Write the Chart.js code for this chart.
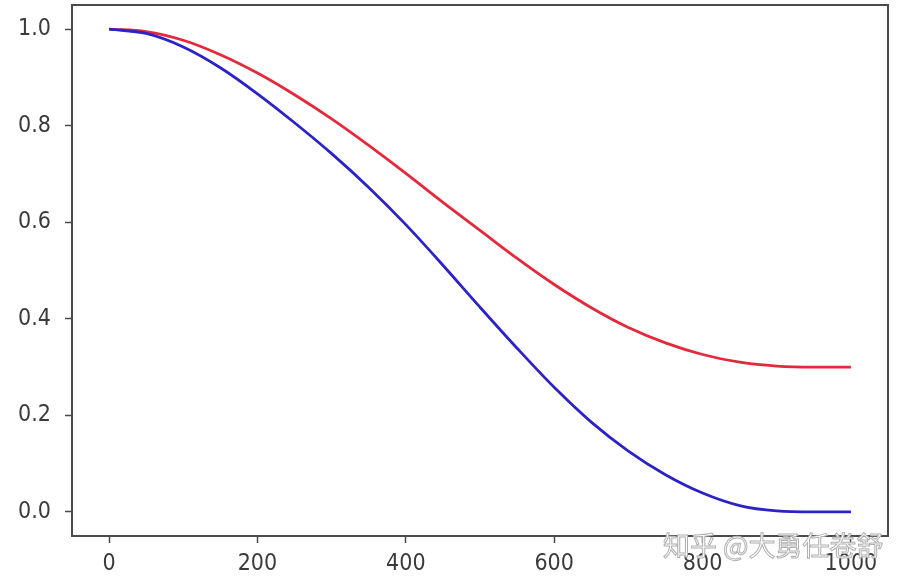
<!DOCTYPE html>
<html>
<head>
<meta charset="utf-8">
<script src="https://cdn.jsdelivr.net/npm/chart.js@4/dist/chart.umd.min.js"></script>
<style>
  html, body { margin: 0; padding: 0; background: #ffffff; }
  #wrap { position: relative; width: 907px; height: 582px; }
  #c { display: block; }
  #wm {
    position: absolute; left: 663px; top: 525px;
    font-family: "Noto Sans CJK SC", sans-serif; font-size: 27px;
    color: #ffffff; white-space: nowrap;
    -webkit-text-stroke: 1px #b0b0b0;
  }
</style>
</head>
<body>
<div id="wrap">
  <canvas id="c" width="907" height="582"></canvas>
  <div id="wm">知乎 @大勇任卷舒</div>
</div>
<script>
// ---- data ----
const steps = [0, 50, 100, 150, 200, 250, 300, 350, 400, 450, 500,
               550, 600, 650, 700, 750, 800, 850, 900, 950, 1000];
const blueSeries = [1.000, 0.991, 0.963, 0.920, 0.866, 0.806, 0.742, 0.672, 0.595, 0.511, 0.424,
                    0.339, 0.258, 0.186, 0.126, 0.077, 0.039, 0.013, 0.002, 0.000, 0.000];
const redSeries  = [1.000, 0.995, 0.977, 0.947, 0.909, 0.864, 0.814, 0.759, 0.701, 0.641, 0.583,
                    0.525, 0.471, 0.423, 0.382, 0.350, 0.326, 0.310, 0.302, 0.300, 0.300];
const xTickValues = [0, 200, 400, 600, 800, 1000];
const yTickValues = [0.0, 0.2, 0.4, 0.6, 0.8, 1.0];

const toPoints = (ys) => steps.map((x, i) => ({ x: x, y: ys[i] }));

const frame = {
  id: 'frame',
  afterDatasetsDraw(chart) {
    const a = chart.chartArea, ctx = chart.ctx;
    ctx.save();
    ctx.strokeStyle = '#4a4a4a';
    ctx.lineWidth = 2;
    ctx.strokeRect(a.left, a.top, a.right - a.left, a.bottom - a.top);
    ctx.restore();
  }
};

const tickFont = { family: '"DejaVu Sans Condensed", "DejaVu Sans", sans-serif', size: 23 };

new Chart(document.getElementById('c'), {
  type: 'line',
  data: {
    datasets: [
      { data: toPoints(blueSeries), borderColor: '#2c22c6', borderWidth: 2.8,
        pointRadius: 0, fill: false, cubicInterpolationMode: 'monotone' },
      { data: toPoints(redSeries), borderColor: '#e22a3c', borderWidth: 2.8,
        pointRadius: 0, fill: false, cubicInterpolationMode: 'monotone' }
    ]
  },
  options: {
    responsive: false,
    animation: false,
    layout: { padding: { left: 0, top: 5, right: 19, bottom: 0 } },
    plugins: { legend: { display: false }, tooltip: { enabled: false } },
    scales: {
      x: {
        type: 'linear', min: -50, max: 1050,
        afterBuildTicks: (s) => { s.ticks = xTickValues.map(v => ({ value: v })); },
        afterFit: (s) => { s.height = 46; s.paddingLeft = 0; s.paddingRight = 0; },
        grid: { drawOnChartArea: false, drawTicks: true, tickLength: 7, tickWidth: 1.5, tickColor: '#4a4a4a' },
        border: { display: false },
        ticks: { color: '#3a3a3a', font: tickFont, padding: 7, maxRotation: 0, autoSkip: false,
                 callback: (v) => String(v) }
      },
      y: {
        type: 'linear', min: -0.05, max: 1.05,
        afterBuildTicks: (s) => { s.ticks = yTickValues.map(v => ({ value: v })); },
        afterFit: (s) => { s.width = 72; s.paddingTop = 0; s.paddingBottom = 0; },
        grid: { drawOnChartArea: false, drawTicks: true, tickLength: 7, tickWidth: 1.5, tickColor: '#4a4a4a' },
        border: { display: false },
        ticks: { color: '#3a3a3a', font: tickFont, padding: 14, autoSkip: false,
                 callback: (v) => Number(v).toFixed(1) }
      }
    }
  },
  plugins: [frame]
});
</script>
</body>
</html>
